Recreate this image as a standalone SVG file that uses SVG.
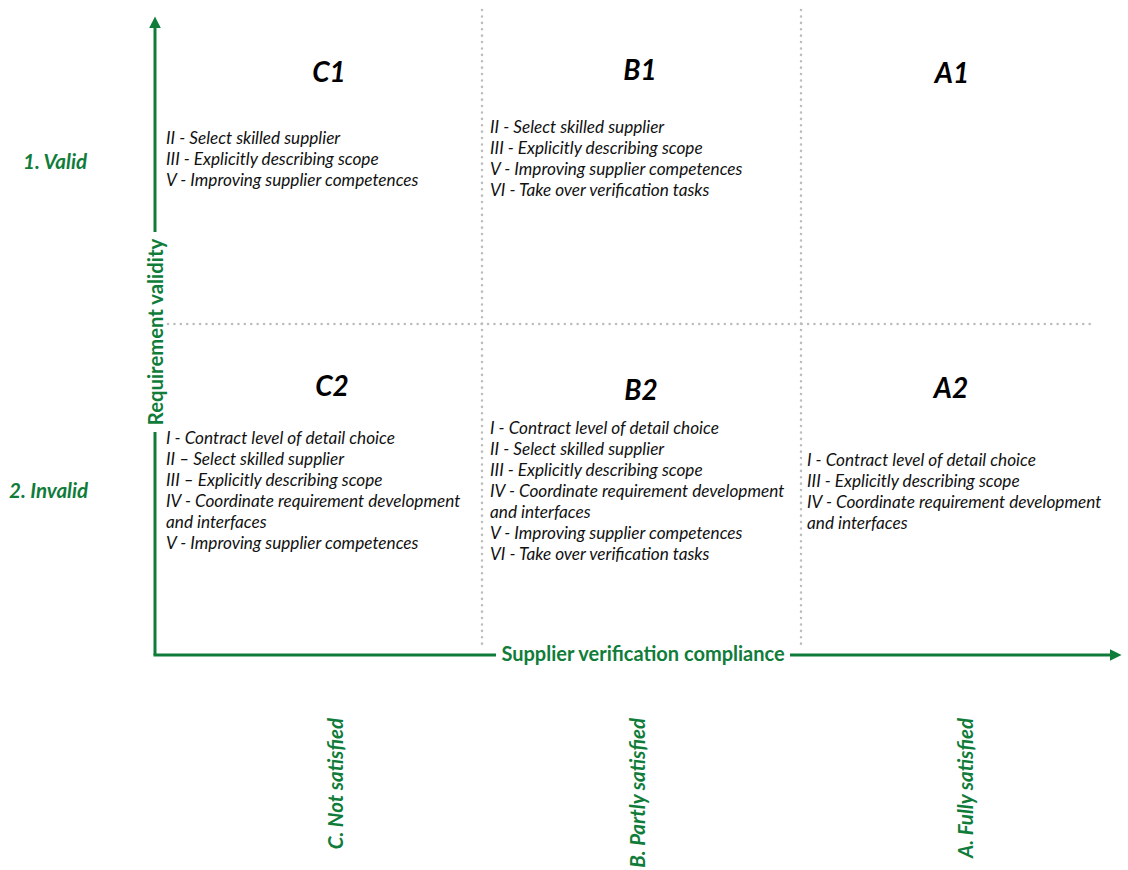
<svg xmlns="http://www.w3.org/2000/svg" width="1128" height="870" viewBox="0 0 1128 870">
<style>
.g{fill:#107c3a;font-family:Lato,"Open Sans",sans-serif;font-weight:bold}
.t{fill:#111;font-family:Lato,"Open Sans",sans-serif;font-style:italic;font-size:17.2px}
.h{fill:#000;font-family:Lato,"Open Sans",sans-serif;font-style:italic;font-weight:bold;font-size:28px;text-anchor:middle}
.dot{stroke:#bdbdbd;stroke-width:2.5;stroke-dasharray:0.1 6.3;stroke-linecap:round;fill:none}
.ax{stroke:#107c3a;stroke-width:3;fill:none}
.lab{font-size:20.5px;font-style:italic}
</style>
<defs>
<marker id="ah" viewBox="0 0 10 10" refX="2" refY="5" markerWidth="4" markerHeight="4" orient="auto" markerUnits="strokeWidth">
<path d="M0,0 L10,5 L0,10 z" fill="#107c3a"/>
</marker>
</defs>
<rect width="1128" height="870" fill="#fff"/>
<g id="grid">
<line class="dot" x1="482" y1="10" x2="482" y2="645"/>
<line class="dot" x1="801" y1="10" x2="801" y2="645"/>
<line class="dot" x1="168" y1="324" x2="1090" y2="324"/>
</g>
<g id="connectors">
<line class="ax" x1="155" y1="232" x2="155" y2="26" marker-end="url(#ah)"/>
<line class="ax" x1="155" y1="432" x2="155" y2="655"/>
<line class="ax" x1="153.5" y1="655" x2="496" y2="655"/>
<line class="ax" x1="790" y1="655" x2="1112" y2="655" marker-end="url(#ah)"/>
</g>
<g id="axis-y-label"><text class="g" font-size="20.3" text-anchor="middle" transform="translate(163,332) rotate(-90)">Requirement validity</text></g>
<g id="axis-x-label"><text class="g" font-size="20" text-anchor="middle" x="643" y="661">Supplier verification compliance</text></g>
<g id="row-labels">
<text class="g lab" x="23" y="169">1. Valid</text>
<text class="g lab" x="9" y="498">2. Invalid</text>
</g>
<g id="col-labels">
<text class="g lab" text-anchor="end" transform="translate(343,718) rotate(-90)">C. Not satisfied</text>
<text class="g lab" text-anchor="end" transform="translate(645,718) rotate(-90)">B. Partly satisfied</text>
<text class="g lab" text-anchor="end" transform="translate(973,718) rotate(-90)">A. Fully satisfied</text>
</g>
<g id="C1">
<text class="h" x="329" y="82">C1</text>
<text class="t" x="166" y="144">II - Select skilled supplier</text>
<text class="t" x="166" y="165">III - Explicitly describing scope</text>
<text class="t" x="166" y="186">V - Improving supplier competences</text>
</g>
<g id="B1">
<text class="h" x="640" y="80">B1</text>
<text class="t" x="490" y="133">II - Select skilled supplier</text>
<text class="t" x="490" y="154">III - Explicitly describing scope</text>
<text class="t" x="490" y="175">V - Improving supplier competences</text>
<text class="t" x="490" y="196">VI - Take over verification tasks</text>
</g>
<g id="A1">
<text class="h" x="952" y="83">A1</text>
</g>
<g id="C2">
<text class="h" x="332" y="396">C2</text>
<text class="t" x="166" y="444">I - Contract level of detail choice</text>
<text class="t" x="166" y="465">II – Select skilled supplier</text>
<text class="t" x="166" y="486">III – Explicitly describing scope</text>
<text class="t" x="166" y="507">IV - Coordinate requirement development</text>
<text class="t" x="166" y="528">and interfaces</text>
<text class="t" x="166" y="549">V - Improving supplier competences</text>
</g>
<g id="B2">
<text class="h" x="641" y="400">B2</text>
<text class="t" x="490" y="434">I - Contract level of detail choice</text>
<text class="t" x="490" y="455">II - Select skilled supplier</text>
<text class="t" x="490" y="476">III - Explicitly describing scope</text>
<text class="t" x="490" y="497">IV - Coordinate requirement development</text>
<text class="t" x="490" y="518">and interfaces</text>
<text class="t" x="490" y="539">V - Improving supplier competences</text>
<text class="t" x="490" y="560">VI - Take over verification tasks</text>
</g>
<g id="A2">
<text class="h" x="951" y="398">A2</text>
<text class="t" x="807" y="466">I - Contract level of detail choice</text>
<text class="t" x="807" y="487">III - Explicitly describing scope</text>
<text class="t" x="807" y="508">IV - Coordinate requirement development</text>
<text class="t" x="807" y="529">and interfaces</text>
</g>
</svg>
